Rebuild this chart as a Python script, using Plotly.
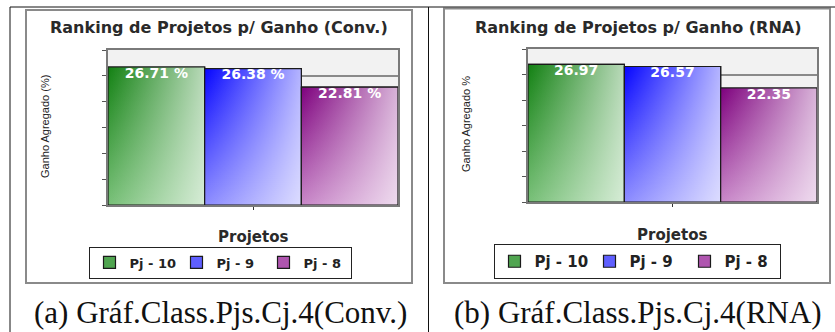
import plotly.graph_objects as go

# ---------------- data ----------------
projects = ["Pj - 10", "Pj - 9", "Pj - 8"]
gain_conv = [26.71, 26.38, 22.81]
gain_rna = [26.97, 26.57, 22.35]
labels_conv = ["26.71 %", "26.38 %", "22.81 %"]
labels_rna = ["26.97", "26.57", "22.35"]
bar_pos = [-1, 0, 1]
y_ticks = [0, 5, 10, 15, 20, 25, 30]
titles = ["Ranking de Projetos p/ Ganho (Conv.)", "Ranking de Projetos p/ Ganho (RNA)"]
y_titles = ["Ganho Agregado (%)", "Ganho Agregado %"]
x_title = "Projetos"
captions = ["(a) Gráf.Class.Pjs.Cj.4(Conv.)", "(b) Gráf.Class.Pjs.Cj.4(RNA)"]

# ---------------- style ----------------
W, H = 835, 332
dark = ["rgb(18,128,18)", "rgb(5,5,255)", "rgb(125,0,125)"]
mid = ["rgb(120,192,120)", "rgb(140,140,255)", "rgb(200,135,200)"]
swatch = ["rgb(80,165,80)", "rgb(95,95,255)", "rgb(175,85,175)"]
SANS = "DejaVu Sans"


def px(x):
    return x / W


def py(y):
    return 1 - y / H


fig = go.Figure()


def add_chart(values, labels, xa, ya, legend_name):
    for i, (p, v) in enumerate(zip(bar_pos, values)):
        # the bar itself (data driven)
        fig.add_trace(go.Bar(
            x=[p], y=[v], width=1, xaxis=xa, yaxis=ya, name=projects[i],
            legend=legend_name, marker=dict(color=swatch[i],
                                            line=dict(color="#1a1a1a", width=1.2)),
            hoverinfo="skip"))
    for i, (p, v) in enumerate(zip(bar_pos, values)):
        xs = [p - 0.5, p + 0.5, p + 0.5, p - 0.5, p - 0.5]
        ys = [0, 0, v, v, 0]
        # vertical gradient (dark top -> lighter bottom)
        fig.add_trace(go.Scatter(
            x=xs, y=ys, xaxis=xa, yaxis=ya, mode="none", fill="toself",
            fillgradient=dict(type="vertical", start=0, stop=v,
                              colorscale=[[0, mid[i]], [1, dark[i]]]),
            showlegend=False, hoverinfo="skip"))
        # horizontal whitening overlay (gives diagonal impression)
        fig.add_trace(go.Scatter(
            x=xs, y=ys, xaxis=xa, yaxis=ya, mode="none", fill="toself",
            fillgradient=dict(type="horizontal", start=p - 0.5, stop=p + 0.5,
                              colorscale=[[0, "rgba(255,255,255,0)"],
                                          [1, "rgba(255,255,255,0.7)"]]),
            showlegend=False, hoverinfo="skip"))
        # outline
        fig.add_trace(go.Scatter(
            x=xs, y=ys, xaxis=xa, yaxis=ya, mode="lines",
            line=dict(color="#1a1a1a", width=1.2),
            showlegend=False, hoverinfo="skip"))
    fig.add_trace(go.Scatter(
        x=bar_pos, y=values, xaxis=xa, yaxis=ya, mode="text", text=labels,
        textposition="bottom center",
        textfont=dict(family=SANS, size=14, color="white", weight="bold"),
        showlegend=False, hoverinfo="skip"))


add_chart(gain_conv, labels_conv, "x", "y", "legend")
add_chart(gain_rna, labels_rna, "x2", "y2", "legend2")

axis_common_x = dict(range=[-1.5, 1.5], showgrid=False, zeroline=False,
                     showline=True, mirror=True, linecolor="#7a7a7a", linewidth=2,
                     ticks="outside", ticklen=3, tickcolor="#333", tickvals=[0],
                     showticklabels=False, fixedrange=True)
axis_common_y = dict(range=[0, 30], tickvals=y_ticks, showgrid=True,
                     gridcolor="#8a8a8a", gridwidth=1.5, zeroline=False,
                     showline=True, mirror=True, linecolor="#7a7a7a", linewidth=2,
                     ticks="outside", ticklen=4, tickcolor="#555",
                     showticklabels=False, fixedrange=True)

fig.update_layout(
    width=W, height=H, margin=dict(l=0, r=0, t=0, b=0),
    paper_bgcolor="white", plot_bgcolor="#f2f2f2", barmode="overlay",
    xaxis=dict(domain=[px(108), px(398)], anchor="y", **axis_common_x),
    yaxis=dict(domain=[py(205), py(50)], anchor="x", **axis_common_y),
    xaxis2=dict(domain=[px(528), px(817)], anchor="y2", **axis_common_x),
    yaxis2=dict(domain=[py(202), py(49)], anchor="x2", **axis_common_y),
    legend=dict(orientation="h", x=px(220), xanchor="center", y=py(262.5),
                yanchor="middle", bordercolor="#222", borderwidth=1,
                bgcolor="white", entrywidth=42,
                font=dict(family=SANS, size=13, color="#222", weight="bold")),
    legend2=dict(orientation="h", x=px(637), xanchor="center", y=py(261.5),
                 yanchor="middle", bordercolor="#222", borderwidth=1,
                 bgcolor="white", entrywidth=50,
                 font=dict(family=SANS, size=15, color="#222", weight="bold")),
    showlegend=True,
)

shapes = []
# outer table lines
shapes.append(dict(type="line", xref="paper", yref="paper", x0=px(10), x1=1,
                   y0=py(7), y1=py(7), line=dict(color="#111", width=1)))
for xl in [10, 428.5]:
    shapes.append(dict(type="line", xref="paper", yref="paper", x0=px(xl), x1=px(xl),
                       y0=py(7), y1=0, line=dict(color="#111", width=1)))
# chart frames
for (x0, y0, x1, y1) in [(26, 10, 412, 283), (444, 8.5, 830, 283)]:
    shapes.append(dict(type="rect", xref="paper", yref="paper", x0=px(x0), x1=px(x1),
                       y0=py(y1), y1=py(y0), line=dict(color="#8a8a8a", width=2),
                       fillcolor="rgba(0,0,0,0)", layer="below"))
fig.update_layout(shapes=shapes)

ann = []
for t, xc in zip(titles, [219, 638]):
    ann.append(dict(text=t, x=px(xc), y=py(27), xref="paper", yref="paper",
                    showarrow=False, xanchor="center", yanchor="middle",
                    font=dict(family=SANS, size=16, color="#2a2a2a", weight="bold")))
for t, xc, yc in zip(y_titles, [45, 466], [127, 124]):
    ann.append(dict(text=t, x=px(xc), y=py(yc), xref="paper", yref="paper",
                    showarrow=False, textangle=-90, xanchor="center", yanchor="middle",
                    font=dict(family="Liberation Sans", size=11, color="#222")))
for xc, yc in [(253, 237), (672, 235)]:
    ann.append(dict(text=x_title, x=px(xc), y=py(yc), xref="paper", yref="paper",
                    showarrow=False, xanchor="center", yanchor="middle",
                    font=dict(family=SANS, size=15, color="#2a2a2a", weight="bold")))
for t, xc in zip(captions, [220, 638]):
    ann.append(dict(text=t, x=px(xc), y=py(312), xref="paper", yref="paper",
                    showarrow=False, xanchor="center", yanchor="middle",
                    font=dict(family="Liberation Serif", size=31, color="#111")))
fig.update_layout(annotations=ann)

fig.write_html("out.html", config={"displayModeBar": False},
               post_script="document.body.style.margin='0';"
                           "document.body.style.overflow='hidden';")
